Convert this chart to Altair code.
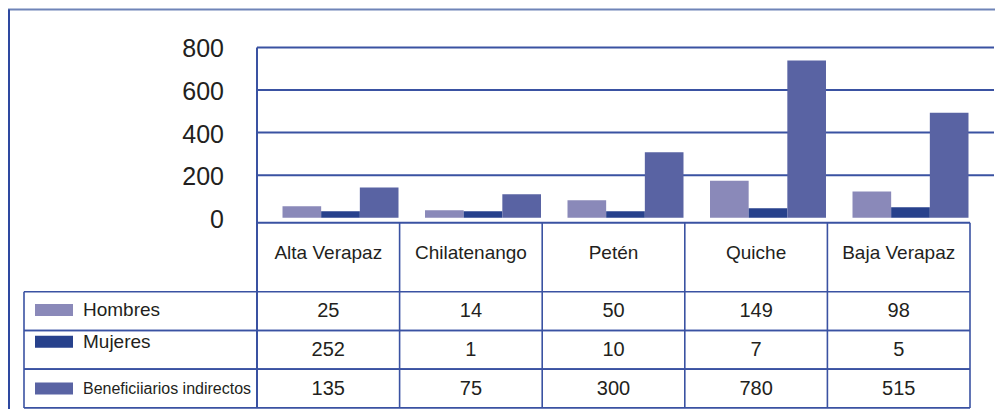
import altair as alt
import pandas as pd

# ---------------- data ----------------
regions = ["Alta Verapaz", "Chilatenango", "Petén", "Quiche", "Baja Verapaz"]
series = ["Hombres", "Mujeres", "Beneficiiarios indirectos"]
# bar heights as drawn (axis units)
hombres_bar = [54, 36, 82, 174, 123]
mujeres_bar = [31, 31, 31, 45, 49]
benef_bar = [142, 110, 308, 738, 493]
# values printed in the data table
hombres_tab = ["25", "14", "50", "149", "98"]
mujeres_tab = ["252", "1", "10", "7", "5"]
benef_tab = ["135", "75", "300", "780", "515"]
y_ticks = [0, 200, 400, 600, 800]
grid_values = [200, 400, 600, 800]
colors = ["#8a89b9", "#27418c", "#5963a3"]

# ---------------- tables ----------------
bar_vals = [hombres_bar, mujeres_bar, benef_bar]
tab_vals = [hombres_tab, mujeres_tab, benef_tab]
df_bars = pd.DataFrame([
    {"region": r, "series": s, "value": bar_vals[j][i]}
    for j, s in enumerate(series) for i, r in enumerate(regions)
])
df_table = pd.DataFrame([
    {"region": r, "series": s, "text": tab_vals[j][i]}
    for j, s in enumerate(series) for i, r in enumerate(regions)
])
df_regions = pd.DataFrame({"region": regions})
df_series = pd.DataFrame({"series": series})
df_ticks = pd.DataFrame({"v": y_ticks, "label": [str(t) for t in y_ticks]})
df_grid = pd.DataFrame({"v": grid_values})
one = alt.Data(values=[{}])

# ---------------- layout ----------------
W, H = 987, 401
X_PLOT_L, X_GRID_R, X_TAB_R, X_TAB_L = 249, 986, 962, 16
Y_TOP800, Y_ZERO = 39.4, 209.8
Y_HEAD_T, Y_HEAD_B, Y_TAB_B = 214.7, 283.7, 399.9
FONT = "Liberation Sans"
TXT = "#231f20"
LINE = "#3a52a2"

yb = alt.Scale(domain=[0, 800], range=[Y_ZERO, Y_TOP800])
xb = alt.Scale(domain=regions, range=[X_PLOT_L, X_GRID_R], paddingInner=0.186, paddingOuter=0.179)
xt = alt.Scale(domain=regions, range=[X_PLOT_L, X_TAB_R], paddingInner=0, paddingOuter=0)
yt = alt.Scale(domain=series, range=[Y_HEAD_B, Y_TAB_B], paddingInner=0, paddingOuter=0)
cs = alt.Scale(domain=series, range=colors)

# outer frame (top and left)
frame_top = alt.Chart(one).mark_rule(color="#6f84b8", strokeWidth=2).encode(
    x=alt.value(0), x2=alt.value(W), y=alt.value(1.5))
frame_left = alt.Chart(one).mark_rule(color="#2e48a0", strokeWidth=2).encode(
    x=alt.value(1), y=alt.value(1.5), y2=alt.value(H))

# plot grid
grid = alt.Chart(df_grid).mark_rule(color=LINE, strokeWidth=2).encode(
    y=alt.Y("v:Q", scale=yb, axis=None),
    x=alt.value(X_PLOT_L), x2=alt.value(X_GRID_R))
plot_left = alt.Chart(one).mark_rule(color=LINE, strokeWidth=2).encode(
    x=alt.value(X_PLOT_L), y=alt.value(Y_TOP800), y2=alt.value(Y_TAB_B))

ticklabels = alt.Chart(df_ticks).mark_text(
    align="right", baseline="middle", fontSize=25, font=FONT, color=TXT, dy=2
).encode(
    y=alt.Y("v:Q", scale=yb, axis=None), x=alt.value(216), text="label:N")

bars = alt.Chart(df_bars).mark_bar().encode(
    x=alt.X("region:N", scale=xb, axis=None, sort=regions),
    xOffset=alt.XOffset("series:N", sort=series, scale=alt.Scale(paddingInner=0, paddingOuter=0)),
    y=alt.Y("value:Q", scale=yb, axis=None),
    color=alt.Color("series:N", scale=cs, legend=None),
)

# table lines
head_top = alt.Chart(one).mark_rule(color=LINE, strokeWidth=2).encode(
    x=alt.value(X_PLOT_L), x2=alt.value(X_TAB_R), y=alt.value(Y_HEAD_T))
col_lines = alt.Chart(df_regions).mark_rule(color=LINE, strokeWidth=1.6).encode(
    x=alt.X("region:N", scale=xt, axis=None, bandPosition=0),
    y=alt.value(Y_HEAD_T), y2=alt.value(Y_TAB_B))
col_right = alt.Chart(one).mark_rule(color=LINE, strokeWidth=1.6).encode(
    x=alt.value(X_TAB_R), y=alt.value(Y_HEAD_T), y2=alt.value(Y_TAB_B))
row_top = alt.Chart(df_series).mark_rule(color=LINE, strokeWidth=1.6).encode(
    y=alt.Y("series:N", scale=yt, axis=None, bandPosition=0),
    x=alt.value(X_TAB_L), x2=alt.value(X_TAB_R))
row_bot = alt.Chart(df_series).mark_rule(color=LINE, strokeWidth=1.6).encode(
    y=alt.Y("series:N", scale=yt, axis=None, bandPosition=1),
    x=alt.value(X_TAB_L), x2=alt.value(X_TAB_R))
leg_left = alt.Chart(one).mark_rule(color=LINE, strokeWidth=1.6).encode(
    x=alt.value(X_TAB_L), y=alt.value(Y_HEAD_B), y2=alt.value(Y_TAB_B))

# table text
head_text = alt.Chart(df_regions).mark_text(
    fontSize=19, font=FONT, color=TXT, baseline="middle"
).encode(x=alt.X("region:N", scale=xt, axis=None), y=alt.value(245), text="region:N")
cells = alt.Chart(df_table).mark_text(
    fontSize=20, font=FONT, color=TXT, baseline="middle"
).encode(
    x=alt.X("region:N", scale=xt, axis=None),
    y=alt.Y("series:N", scale=yt, axis=None),
    text="text:N")

# legend column: swatch + label per series (Mujeres sits a little higher)
leg_dy = {"Hombres": -1, "Mujeres": -8, "Beneficiiarios indirectos": 0}
leg_size = {"Hombres": 19, "Mujeres": 19, "Beneficiiarios indirectos": 16}
legend_layers = []
for s in series:
    base = alt.Chart(df_series).transform_filter(alt.datum.series == s)
    legend_layers.append(
        base.mark_tick(orient="horizontal", size=38, thickness=12, opacity=1, yOffset=leg_dy[s]).encode(
            x=alt.value(46),
            y=alt.Y("series:N", scale=yt, axis=None),
            color=alt.Color("series:N", scale=cs, legend=None)))
    legend_layers.append(
        base.mark_text(align="left", baseline="middle", fontSize=leg_size[s], font=FONT,
                       color=TXT, dy=leg_dy[s]).encode(
            x=alt.value(75), y=alt.Y("series:N", scale=yt, axis=None), text="series:N"))

chart = alt.layer(
    frame_top, frame_left, grid, bars, plot_left, ticklabels,
    head_top, col_lines, col_right, row_top, row_bot, leg_left,
    head_text, cells, *legend_layers,
).resolve_scale(x="independent", y="independent").properties(
    width=W, height=H,
    autosize=alt.AutoSizeParams(type="none"),
    padding={"left": 0, "top": 0, "right": 0, "bottom": 0},
).configure_view(stroke=None)

chart.save("out.html", embed_options={"renderer": "svg", "actions": False})
